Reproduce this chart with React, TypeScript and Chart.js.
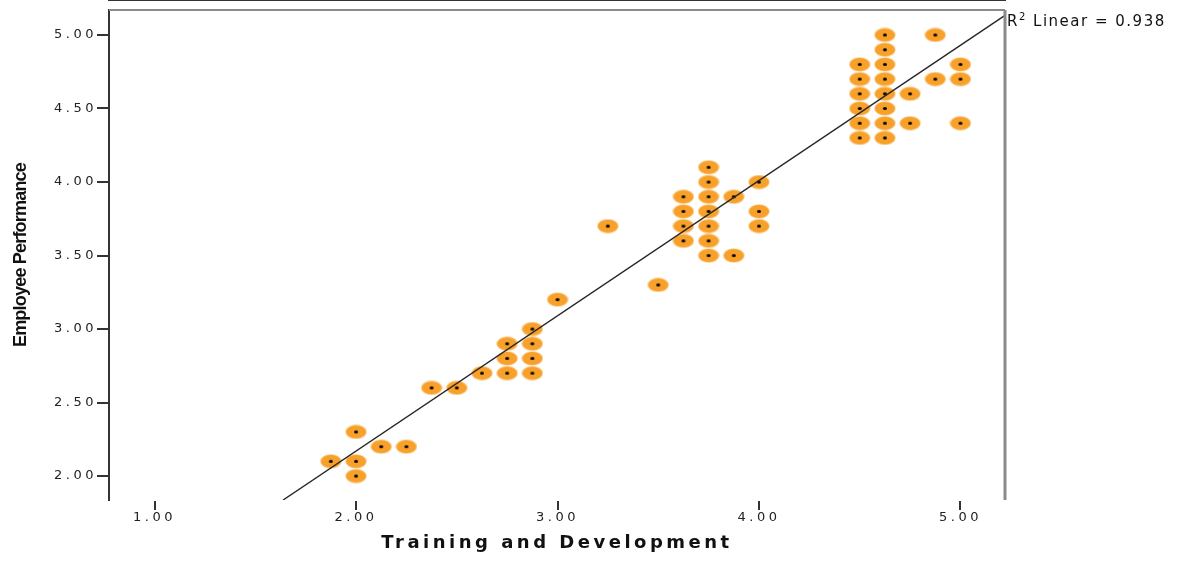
import React, { useEffect, useRef } from 'react';
import { Chart, registerables } from 'chart.js';

Chart.register(...registerables);

// ---- data ----
const X_TITLE = 'Training and Development';
const Y_TITLE = 'Employee Performance';
const X_MIN = 0.774;
const X_MAX = 5.221;
const Y_MIN = 1.837;
const Y_MAX = 5.17;
const X_STEP = 1;
const Y_STEP = 0.5;

const trainingX = [
  1.875,
  2, 2, 2,
  2.125, 2.25,
  2.375, 2.5,
  2.625,
  2.75, 2.75, 2.75,
  2.875, 2.875, 2.875, 2.875,
  3.0, 3.25, 3.5,
  3.625, 3.625, 3.625, 3.625,
  3.75, 3.75, 3.75, 3.75, 3.75, 3.75, 3.75,
  3.875, 3.875,
  4.0, 4.0, 4.0,
  4.5, 4.5, 4.5, 4.5, 4.5, 4.5,
  4.625, 4.625, 4.625, 4.625, 4.625, 4.625, 4.625, 4.625,
  4.75, 4.75,
  4.875, 4.875,
  5.0, 5.0, 5.0,
];

const performanceY = [
  2.1,
  2.3, 2.1, 2.0,
  2.2, 2.2,
  2.6, 2.6,
  2.7,
  2.9, 2.8, 2.7,
  3.0, 2.9, 2.8, 2.7,
  3.2, 3.7, 3.3,
  3.9, 3.8, 3.7, 3.6,
  4.1, 4.0, 3.9, 3.8, 3.7, 3.6, 3.5,
  3.9, 3.5,
  4.0, 3.8, 3.7,
  4.8, 4.7, 4.6, 4.5, 4.4, 4.3,
  5.0, 4.9, 4.8, 4.7, 4.6, 4.5, 4.4, 4.3,
  4.6, 4.4,
  5.0, 4.7,
  4.8, 4.7, 4.4,
];

const FIT_SLOPE = 0.92;
const FIT_INTERCEPT = 0.33;
const FIT_R2 = 0.938;

function makeMarker(): HTMLCanvasElement {
  const c = document.createElement('canvas');
  c.width = 22;
  c.height = 15;
  const g = c.getContext('2d')!;
  g.fillStyle = 'rgba(246,160,40,0.45)';
  g.beginPath();
  g.ellipse(11, 7.5, 10.8, 7.3, 0, 0, Math.PI * 2);
  g.fill();
  g.fillStyle = '#F7A02A';
  g.beginPath();
  g.ellipse(11, 7.5, 10, 6.5, 0, 0, Math.PI * 2);
  g.fill();
  g.fillStyle = '#000';
  g.beginPath();
  g.ellipse(11, 7.5, 2, 1.5, 0, 0, Math.PI * 2);
  g.fill();
  return c;
}

const spssPlugin = {
  id: 'spssText',
  beforeDraw(chart: any) {
    chart.ctx.letterSpacing = '-0.8px';
  },
  afterDatasetsDraw(chart: any) {
    chart.ctx.letterSpacing = '3.5px';
  },
  afterDraw(chart: any) {
    const { ctx, chartArea: a } = chart;
    ctx.save();
    ctx.strokeStyle = '#8a8a8a';
    ctx.lineWidth = 2;
    ctx.beginPath();
    ctx.moveTo(a.left, a.top);
    ctx.lineTo(a.right, a.top);
    ctx.stroke();
    ctx.lineWidth = 3;
    ctx.beginPath();
    ctx.moveTo(a.right, a.top);
    ctx.lineTo(a.right, a.bottom);
    ctx.stroke();

    ctx.letterSpacing = '1.5px';
    ctx.fillStyle = '#111';
    ctx.textBaseline = 'alphabetic';
    ctx.textAlign = 'left';
    let x = a.right + 2;
    const base = 26;
    ctx.font = '15px "DejaVu Sans"';
    ctx.fillText('R', x, base);
    x += ctx.measureText('R').width;
    ctx.font = '10px "DejaVu Sans"';
    ctx.fillText('2', x, base - 6);
    x += ctx.measureText('2').width;
    ctx.font = '15px "DejaVu Sans"';
    ctx.fillText(' Linear = ' + FIT_R2.toFixed(3), x, base);
    ctx.restore();
    ctx.letterSpacing = '0px';
  },
};

export default function App() {
  const ref = useRef<HTMLCanvasElement>(null);

  useEffect(() => {
    if (!ref.current) return;
    const marker = makeMarker();
    const points = trainingX.map((x, i) => ({ x, y: performanceY[i] }));
    const xStart = Math.max(X_MIN, (Y_MIN - FIT_INTERCEPT) / FIT_SLOPE);
    const xEnd = Math.min(X_MAX, (Y_MAX - FIT_INTERCEPT) / FIT_SLOPE);
    const fitLine = [
      { x: xStart, y: FIT_INTERCEPT + FIT_SLOPE * xStart },
      { x: xEnd, y: FIT_INTERCEPT + FIT_SLOPE * xEnd },
    ];
    const tickFont = { family: '"DejaVu Sans"', size: 13 };

    const chart = new Chart(ref.current, {
      type: 'scatter',
      data: {
        datasets: [
          {
            type: 'line',
            label: 'Linear fit',
            data: fitLine,
            borderColor: '#262626',
            borderWidth: 1.4,
            pointRadius: 0,
            fill: false,
          } as any,
          {
            label: 'Observed',
            data: points,
            pointStyle: marker as any,
            pointRadius: 6,
            pointHoverRadius: 6,
          },
        ],
      },
      plugins: [spssPlugin as any],
      options: {
        animation: false,
        responsive: true,
        maintainAspectRatio: false,
        events: [],
        layout: { padding: { top: 10, right: 179, left: 0, bottom: 0 } },
        plugins: { legend: { display: false }, tooltip: { enabled: false } },
        scales: {
          x: {
            type: 'linear',
            min: X_MIN,
            max: X_MAX,
            afterFit: (s: any) => {
              s.height = 61;
            },
            ticks: {
              stepSize: X_STEP,
              includeBounds: false,
              padding: 0,
              z: 1,
              color: '#222',
              font: tickFont,
              callback: (v: any) => Number(v).toFixed(2),
            },
            grid: {
              drawOnChartArea: false,
              drawTicks: true,
              tickLength: 10,
              color: '#333',
              lineWidth: 2,
              z: 1,
            },
            border: { display: true, color: '#333', width: 2 },
            title: {
              display: true,
              text: X_TITLE,
              color: '#111',
              font: { family: '"DejaVu Sans"', size: 18, weight: 'bold' },
              padding: { top: 0, bottom: 7 },
            },
          },
          y: {
            type: 'linear',
            min: Y_MIN,
            max: Y_MAX,
            afterFit: (s: any) => {
              s.width = 109;
            },
            ticks: {
              stepSize: Y_STEP,
              includeBounds: false,
              padding: 0,
              z: 1,
              color: '#222',
              font: tickFont,
              callback: (v: any) => Number(v).toFixed(2),
            },
            grid: {
              drawOnChartArea: false,
              drawTicks: true,
              tickLength: 12,
              color: '#333',
              lineWidth: 2,
            },
            border: { display: true, color: '#333', width: 2 },
            title: {
              display: true,
              text: Y_TITLE,
              color: '#111',
              font: {
                family: '"Liberation Sans", Arial, sans-serif',
                size: 18,
                weight: 'bold',
              },
              padding: { top: 10, bottom: 0 },
            },
          },
        },
      } as any,
    });
    return () => chart.destroy();
  }, []);

  return (
    <div style={{ position: 'fixed', left: 0, top: 0, width: 1184, height: 561, background: '#fff' }}>
      <canvas ref={ref} />
    </div>
  );
}
